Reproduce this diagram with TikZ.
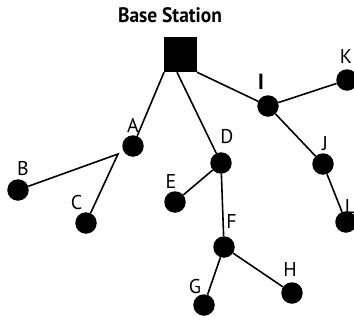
\documentclass[tikz,border=0pt]{standalone}
\usepackage{fontspec}
\setmainfont{PT Sans}
\begin{document}
\begin{tikzpicture}[x=1bp,y=-1bp,
  station/.style={fill=black, minimum width=32.5bp, minimum height=35bp, inner sep=0pt},
  host/.style={circle, fill=black, minimum size=21.5bp, inner sep=0pt},
  lbl/.style={font=\fontsize{20}{20}\selectfont, inner sep=0pt, anchor=center},
  link/.style={line width=1.6bp}]
\useasboundingbox (0,0) rectangle (354,322);
\clip (0,0) rectangle (354,322);

% base station and its caption
\node[station] (bs) at (180.5,54.5) {};
\node[font=\bfseries\fontsize{21}{21}\selectfont, inner sep=0pt] (bslbl) at (170,15.5) {\scalebox{0.93}[1]{Base Station}};

% hosts
\node[host] (A) at (133,146) {};
\node[host] (B) at (18,190) {};
\node[host] (C) at (86,223) {};
\node[host] (D) at (221,163) {};
\node[host] (E) at (175,202) {};
\node[host] (F) at (224,247) {};
\node[host] (G) at (204,305) {};
\node[host] (H) at (292,293) {};
\node[host] (I) at (268,106) {};
\node[host] (J) at (323,164) {};
\node[host] (K) at (347,80) {};
\node[host] (L) at (346,222) {};

% host names
\node[lbl] (lA) at (133,125) {A};
\node[lbl] (lB) at (23,169) {B};
\node[lbl] (lC) at (76.5,203) {C};
\node[lbl] (lD) at (227,137) {D};
\node[lbl] (lE) at (171,182) {E};
\node[lbl] (lF) at (231.5,222) {F};
\node[lbl] (lG) at (195,287) {G};
\node[lbl] (lH) at (290,270) {H};
\node[lbl, font=\bfseries\fontsize{22}{22}\selectfont] (lI) at (261,82) {I};
\node[lbl] (lJ) at (325,144) {J};
\node[lbl] (lK) at (346,57) {K};
\node[lbl] (lL) at (350,207) {L};

% links
\coordinate (Aj) at (118,154);
\draw[link] (bs.south west) -- (A);
\draw[link] ([xshift=-3.5bp]bs.south) -- (D);
\draw[link] (bs.south east) -- (I);
\draw[link] (B) -- (Aj) -- (C);
\draw[link] (D) -- (E);
\draw[link] (D) -- (F);
\draw[link] (F) -- (G);
\draw[link] (F) -- (H);
\draw[link] (I) -- (K);
\draw[link] (I) -- (J);
\draw[link] (J) -- (L);
\end{tikzpicture}
\end{document}
